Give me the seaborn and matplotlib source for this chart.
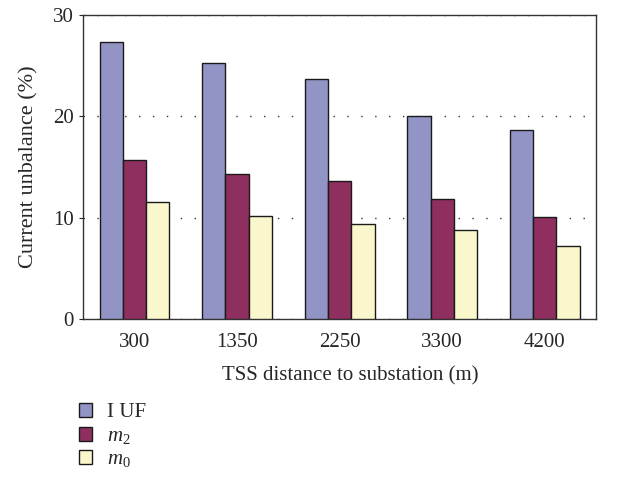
import pandas as pd
import matplotlib.pyplot as plt
import seaborn as sns

plt.switch_backend('Agg')

# values
distances = ['300', '1350', '2250', '3300', '4200']
iuf = [27.3, 25.3, 23.7, 20.0, 18.6]
m2 = [15.7, 14.3, 13.6, 11.8, 10.1]
m0 = [11.5, 10.2, 9.4, 8.8, 7.2]
series_labels = ['I UF', '$m_2$', '$m_0$']
colors = ['#9394C6', '#8F2F5F', '#FAF7CC']

rows = []
for name, vals in zip(series_labels, [iuf, m2, m0]):
    for d, v in zip(distances, vals):
        rows.append({'distance': d, 'value': v, 'series': name})
df = pd.DataFrame(rows)

sns.set_style('white')
plt.rcParams['font.family'] = ['Liberation Serif', 'DejaVu Serif']
plt.rcParams['mathtext.fontset'] = 'custom'
plt.rcParams['mathtext.rm'] = 'Liberation Serif'
plt.rcParams['mathtext.it'] = 'Liberation Serif:italic'

fig = plt.figure(figsize=(6.21, 4.79), dpi=100)
ax = fig.add_axes([0.134, 0.334, 0.826, 0.635])

sns.barplot(data=df, x='distance', y='value', hue='series', order=distances,
            hue_order=series_labels, palette=colors, width=0.68,
            edgecolor='#1a1a1a', linewidth=1.0, saturation=1, ax=ax, zorder=3)

ax.set_ylim(0, 30)
ax.set_yticks([0, 10, 20, 30])
ax.set_xlim(-0.5, len(distances) - 0.5)
ax.yaxis.grid(True, linestyle=(0, (1, 9)), color='#333333', linewidth=1.0, zorder=0)
ax.set_axisbelow(True)
for s in ax.spines.values():
    s.set_color('#333333')
    s.set_linewidth(1.0)
ax.tick_params(axis='y', length=3, width=0.8, left=True, labelsize=15, pad=4)
ax.tick_params(axis='x', length=0, labelsize=15, pad=10)
ax.set_xlabel('TSS distance to substation (m)', fontsize=15, labelpad=14)
ax.xaxis.set_label_coords(0.52, -0.155)
ax.set_ylabel('Current unbalance (%)', fontsize=16, labelpad=10)

handles, labels = ax.get_legend_handles_labels()
ax.legend(handles, labels, loc='upper left', bbox_to_anchor=(-0.045, -0.215),
          frameon=False, fontsize=15, handlelength=0.65, handleheight=0.65,
          handletextpad=0.7, labelspacing=0.2)

fig.savefig('out.png', dpi=100)
